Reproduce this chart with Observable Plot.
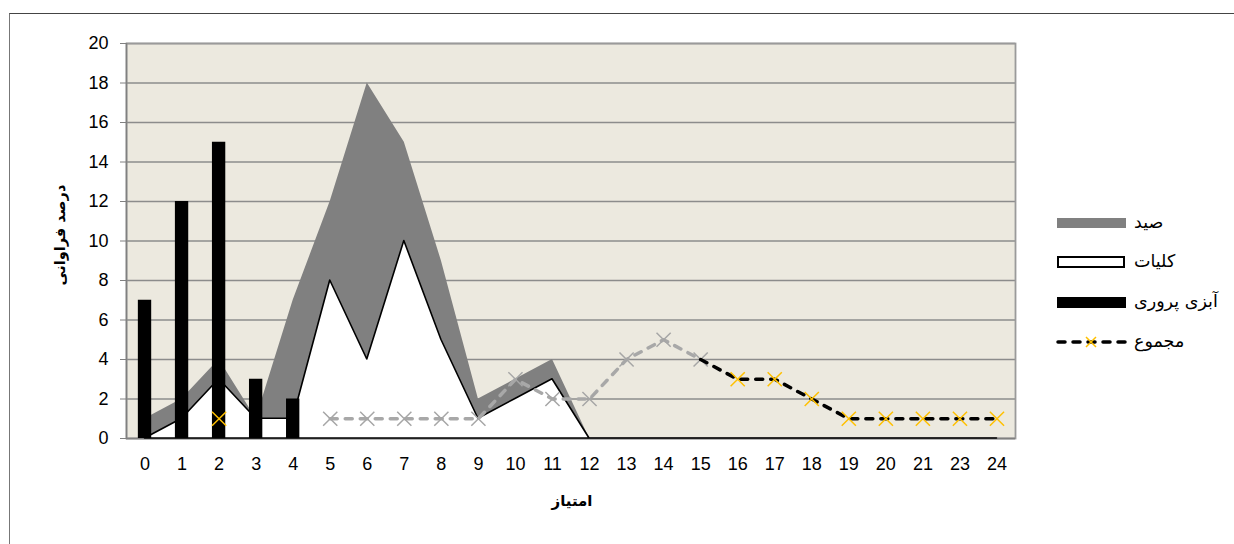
<!DOCTYPE html>
<html><head><meta charset="utf-8">
<script src="https://cdn.jsdelivr.net/npm/d3@7"></script>
<script src="https://cdn.jsdelivr.net/npm/@observablehq/plot@0.6"></script>
<style>
html,body{margin:0;padding:0;background:#fff;}
#wrap{position:relative;width:1234px;height:544px;overflow:hidden;}
#chart{position:absolute;left:0;top:0;}
#border{position:absolute;left:9px;top:13px;width:1400px;height:700px;border-top:1.5px solid #444;border-left:1.5px solid #777;pointer-events:none;}
.fa{font-family:"DejaVu Sans",sans-serif;position:absolute;white-space:nowrap;color:#000;line-height:22px;}
.sw{position:absolute;box-sizing:border-box;}
</style></head><body>
<div id="wrap">
  <div id="chart"></div>
  <div id="border"></div>
  <div class="fa" id="ytitle" style="left:60px;top:235px;font-size:14.5px;font-weight:bold;transform:translate(-50%,-50%) rotate(-90deg);">درصد فراوانی</div>
  <div class="fa" id="xtitle" style="left:572px;top:501px;font-size:15px;font-weight:bold;transform:translate(-50%,-50%);">امتیاز</div>
  <div id="legend"></div>
</div>
<script>
// ---- data ----
const categories = ["0","1","2","3","4","5","6","7","8","9","10","11","12","13","14","15","16","17","18","19","20","21","23","24"];
const seyd        = [1, 2, 4, 1, 7, 12, 18, 15, 9, 2, 3, 4, 0, 0, 0, 0, 0, 0, 0, 0, 0, 0, 0, 0];
const kolliat     = [0, 1, 3, 1, 1, 8, 4, 10, 5, 1, 2, 3, 0, 0, 0, 0, 0, 0, 0, 0, 0, 0, 0, 0];
const aquaculture = [7, 12, 15, 3, 2, null, null, null, null, null, null, null, null, null, null, null, null, null, null, null, null, null, null, null];
const total       = [null, null, 1, null, null, 1, 1, 1, 1, 1, 3, 2, 2, 4, 5, 4, 3, 3, 2, 1, 1, 1, 1, 1];
const yTicks = [0, 2, 4, 6, 8, 10, 12, 14, 16, 18, 20];
const seriesNames = ["صید", "کلیات", "آبزی پروری", "مجموع"];

// ---- build table ----
const rows = categories.map((c, i) => ({i, c, seyd: seyd[i], kolliat: kolliat[i], aqua: aquaculture[i], total: total[i]}));
const greyFrom = 5, greyTo = 15; // categories whose "total" segment is drawn grey
const lineGrey = rows.filter(d => d.total != null && d.i >= greyFrom && d.i <= greyTo);
const lineBlack = rows.filter(d => d.total != null && d.i >= greyTo);
const greyPts = lineGrey;
const orangePts = rows.filter(d => d.total != null && (d.i < greyFrom || d.i > greyTo));

const chart = Plot.plot({
  width: 1234, height: 544,
  marginLeft: 126, marginRight: 219, marginTop: 43, marginBottom: 106,
  style: {background: "transparent", fontFamily: "'Liberation Sans', Arial, sans-serif", fontSize: "18px", color: "#000"},
  x: {type: "linear", domain: [-0.5, categories.length - 0.5]},
  y: {domain: [0, 20]},
  marks: [
    Plot.frame({fill: "#ECE9DF", stroke: null}),
    Plot.gridY(yTicks, {stroke: "#8c8c8c", strokeOpacity: 1, strokeWidth: 1.3}),
    Plot.frame({stroke: "#9a9a9a", strokeWidth: 1.8}),
    Plot.ruleX([-0.5], {stroke: "#808080", strokeWidth: 1.5}),
    Plot.ruleY([0], {stroke: "#808080", strokeWidth: 1.5}),
    Plot.areaY(rows, {x: "i", y: "seyd", fill: "#808080"}),
    Plot.areaY(rows, {x: "i", y: "kolliat", fill: "#ffffff", stroke: "#000", strokeWidth: 1.6}),
    Plot.rectY(rows.filter(d => d.aqua != null), {x1: d => d.i - 0.18, x2: d => d.i + 0.18, y: "aqua", fill: "#000"}),
    Plot.line(lineGrey, {x: "i", y: "total", stroke: "#A8A8A8", strokeWidth: 3.5, strokeDasharray: "7,8", strokeLinecap: "round"}),
    Plot.dot(greyPts, {x: "i", y: "total", symbol: "times", r: 6.5, stroke: "#A6A6A6", strokeWidth: 1.5}),
    Plot.line(lineBlack, {x: "i", y: "total", stroke: "#000", strokeWidth: 3.5, strokeDasharray: "7,8", strokeLinecap: "round"}),
    Plot.dot(orangePts, {x: "i", y: "total", symbol: "times", r: 6.5, stroke: "#FFC000", strokeWidth: 1.5}),
    Plot.axisY(yTicks, {tickSize: 6, tickPadding: 12, stroke: "#808080", fill: "#000", fontSize: 18, label: null}),
    Plot.axisX(d3.range(categories.length), {tickSize: 0, tickPadding: 19, tickFormat: i => categories[i], fill: "#000", fontSize: 18, label: null})
  ]
});
document.getElementById("chart").appendChild(chart);

// ---- legend ----
const leg = document.getElementById("legend");
const legY = [223, 262, 302, 342];
function add(html) { leg.insertAdjacentHTML("beforeend", html); }
add(`<div class="sw" style="left:1057px;top:${legY[0]-5}px;width:69px;height:10px;background:#808080"></div>`);
add(`<div class="sw" style="left:1057px;top:${legY[1]-6}px;width:68px;height:12px;background:#fff;border:2px solid #000"></div>`);
add(`<div class="sw" style="left:1057px;top:${legY[2]-5}px;width:69px;height:11px;background:#000"></div>`);
add(`<svg class="sw" style="left:1052px;top:${legY[3]-9}px" width="80" height="18">
  <line x1="6" y1="9" x2="74" y2="9" stroke="#000" stroke-width="3.5" stroke-dasharray="7,8" stroke-linecap="round"/>
  <path d="M34,4 L44,14 M44,4 L34,14" stroke="#FFC000" stroke-width="1.5" fill="none"/></svg>`);
seriesNames.forEach((n, k) => add(`<div class="fa" style="left:1134px;top:${legY[k]-12}px;font-size:17.5px;">${n}</div>`));
</script>
</body></html>
